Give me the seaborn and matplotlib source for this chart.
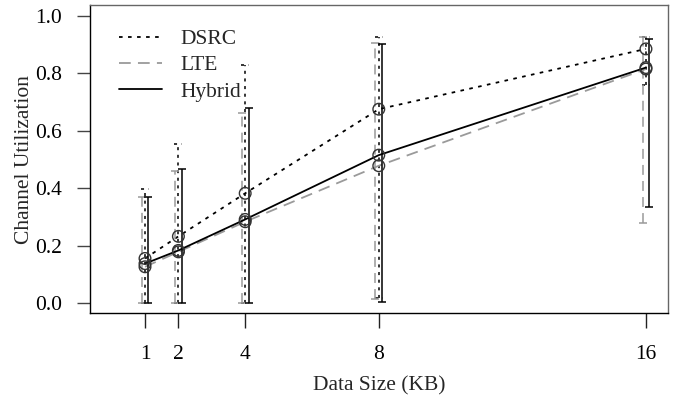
import matplotlib
matplotlib.use("Agg")
import matplotlib.pyplot as plt
import seaborn as sns
import pandas as pd

sns.set_theme(style="white")
plt.rcParams['font.family'] = ['Liberation Serif', 'DejaVu Serif']

data_size = [1, 2, 4, 8, 16]
series_names = ["DSRC", "LTE", "Hybrid"]

dsrc_mean = [0.155, 0.232, 0.382, 0.675, 0.885]
dsrc_low = [0.0, 0.0, 0.0, 0.017, 0.76]
dsrc_high = [0.397, 0.554, 0.829, 0.925, 0.928]

lte_mean = [0.126, 0.178, 0.283, 0.478, 0.815]
lte_low = [0.0, 0.0, 0.0, 0.015, 0.28]
lte_high = [0.37, 0.46, 0.662, 0.905, 0.925]

hybrid_mean = [0.137, 0.183, 0.291, 0.515, 0.82]
hybrid_low = [0.0, 0.0, 0.0, 0.005, 0.336]
hybrid_high = [0.369, 0.466, 0.678, 0.902, 0.918]

x_ticks = [1, 2, 4, 8, 16]
y_ticks = [0.0, 0.2, 0.4, 0.6, 0.8, 1.0]

FS = 15.5

styles = {
    "DSRC": dict(color="black", ls=(0, (2.0, 3.0)), off=0.0),
    "LTE": dict(color="#9a9a9a", ls=(0, (6.5, 4.0)), off=-0.1),
    "Hybrid": dict(color="black", ls="-", off=0.1),
}
vals = {
    "DSRC": (dsrc_mean, dsrc_low, dsrc_high),
    "LTE": (lte_mean, lte_low, lte_high),
    "Hybrid": (hybrid_mean, hybrid_low, hybrid_high),
}

fig = plt.figure(figsize=(6.77, 4.0), dpi=100)
ax = fig.add_axes([90 / 677, 87 / 400, 578 / 677, 308 / 400])

cap = 0.12
LW = 1.1
for name in series_names:
    m, lo, hi = vals[name]
    st = styles[name]
    df = pd.DataFrame({"x": data_size, "y": m})
    sns.lineplot(data=df, x="x", y="y", ax=ax, color=st["color"], lw=LW + 0.2,
                 linestyle=st["ls"], label=name, legend=False)
    xs = [v + st["off"] for v in data_size]
    ax.vlines(xs, lo, hi, colors=st["color"], linestyles=[st["ls"]], lw=LW)
    ax.hlines(lo, [v - cap for v in xs], [v + cap for v in xs],
              colors=st["color"], linestyles=[st["ls"]], lw=LW)
    ax.hlines(hi, [v - cap for v in xs], [v + cap for v in xs],
              colors=st["color"], linestyles=[st["ls"]], lw=LW)

for name in series_names:
    m = vals[name][0]
    df = pd.DataFrame({"x": data_size, "y": m})
    sns.scatterplot(data=df, x="x", y="y", ax=ax, marker="o", s=70,
                    facecolor="none", edgecolor="#333333", linewidth=1.0,
                    legend=False, zorder=5)

ax.set_xlim(-0.647, 16.66)
ax.set_ylim(-0.035, 1.038)
ax.set_xticks(x_ticks)
ax.set_xticklabels([str(v) for v in x_ticks])
ax.set_yticks(y_ticks)
ax.set_yticklabels([f"{v:.1f}" for v in y_ticks])

ax.tick_params(axis="x", direction="out", length=10.8, width=1.0,
               pad=12.2, labelsize=FS, colors="#222222", labelcolor="black")
ax.tick_params(axis="y", direction="out", length=9.4, width=1.0,
               pad=10.5, labelsize=FS, colors="#444444", labelcolor="black")
ax.tick_params(bottom=True, left=True)

for side in ["left", "bottom"]:
    ax.spines[side].set_color("black")
    ax.spines[side].set_linewidth(1.0)
for side in ["top", "right"]:
    ax.spines[side].set_color("#666666")
    ax.spines[side].set_linewidth(1.0)

ax.set_xlabel("Data Size (KB)", fontsize=FS, va="center")
ax.xaxis.set_label_coords(0.5, -0.237)
ax.set_ylabel("Channel Utilization", fontsize=FS, va="center")
ax.yaxis.set_label_coords(-0.114, 0.497)

handles, labels = ax.get_legend_handles_labels()
ax.legend(handles, labels, loc="upper left", bbox_to_anchor=(0.035, 0.95),
          frameon=False, fontsize=FS, handlelength=2.0, handletextpad=0.85,
          labelspacing=0.29, borderaxespad=0)

fig.savefig("out.png", dpi=100)
